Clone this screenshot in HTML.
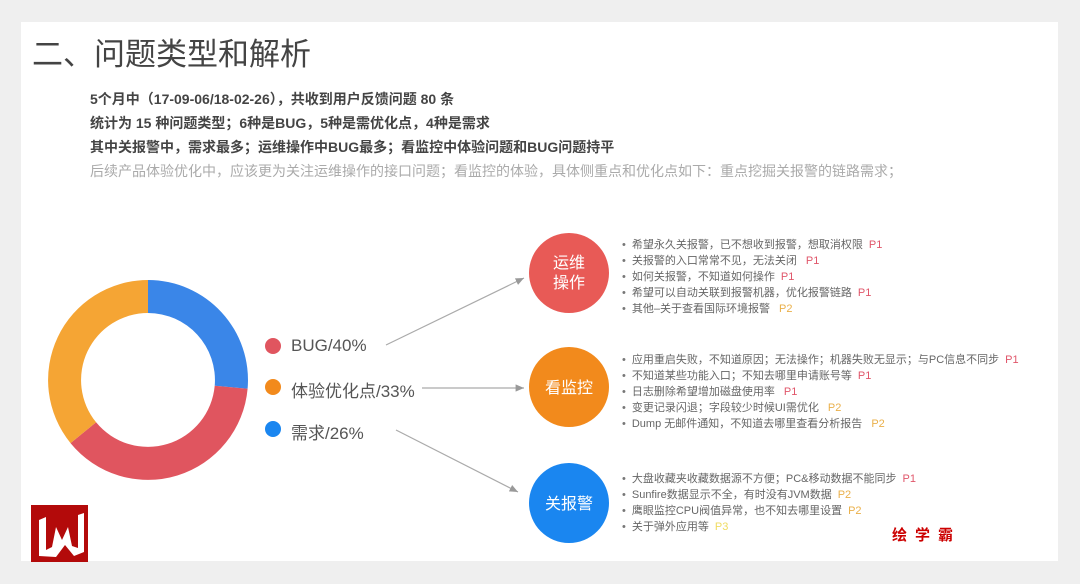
<!DOCTYPE html>
<html><head><meta charset="utf-8"><style>
body{margin:0;width:1080px;height:584px;background:#efefef;overflow:hidden;position:relative;font-family:"Liberation Sans","Noto Sans CJK SC",sans-serif}
.card{position:absolute;left:21px;top:22px;width:1037px;height:539px;background:#fff}
.t{position:absolute;white-space:nowrap}
.h{left:32px;top:29px;font-size:31px;color:#444}
.s{left:90px;font-size:14px;font-weight:bold;color:#444}
.s2{left:90px;font-size:14px;color:#aaa}
.li{position:absolute;left:622px;font-size:11px;color:#666;white-space:nowrap;line-height:16px}
.li div:before{content:"•";margin-right:6px;color:#777}
.p1{color:#e0566a;margin-left:6px}.p2{color:#eab04a;margin-left:6px}.p3{color:#f0dc60;margin-left:6px}
.lg{position:absolute;font-size:17px;color:#555;white-space:nowrap}
</style></head><body>
<div class="card"></div>
<div class="t h">二、问题类型和解析</div>
<div class="t s" style="top:89px">5个月中（17-09-06/18-02-26），共收到用户反馈问题 80 条</div>
<div class="t s" style="top:113px">统计为 15 种问题类型；6种是BUG，5种是需优化点，4种是需求</div>
<div class="t s" style="top:137px">其中关报警中，需求最多；运维操作中BUG最多；看监控中体验问题和BUG问题持平</div>
<div class="t s2" style="top:161px">后续产品体验优化中，应该更为关注运维操作的接口问题；看监控的体验，具体侧重点和优化点如下：重点挖掘关报警的链路需求；</div>
<svg style="position:absolute;left:0;top:0" width="1080" height="584">
<defs><marker id="a" markerWidth="8" markerHeight="8" refX="7" refY="4" orient="auto"><path d="M0,1 L7,4 L0,7" fill="#999"/></marker></defs>
<g transform="translate(148,380)">
<path d="M0,-100 A100,100 0 0 1 99.6,8.7 L66.7,5.8 A67,67 0 0 0 0,-67Z" fill="#3a86e8"/>
<path d="M99.6,8.7 A100,100 0 0 1 -77.5,63.1 L-51.9,42.3 A67,67 0 0 0 66.7,5.8Z" fill="#e0555f"/>
<path d="M-77.5,63.1 A100,100 0 0 1 0,-100 L0,-67 A67,67 0 0 0 -51.9,42.3Z" fill="#f5a534"/>
</g>
<circle cx="273" cy="346" r="8" fill="#e0555f"/>
<circle cx="273" cy="387" r="8" fill="#f28a1c"/>
<circle cx="273" cy="429" r="8" fill="#1a86f0"/>
<g stroke="#aaa" stroke-width="1.2" fill="none" marker-end="url(#a)">
<line x1="386" y1="345" x2="524" y2="278"/>
<line x1="422" y1="388" x2="524" y2="388"/>
<line x1="396" y1="430" x2="518" y2="492"/>
</g>
<circle cx="569" cy="273" r="40" fill="#e85a56"/>
<circle cx="569" cy="387" r="40" fill="#f28a1c"/>
<circle cx="569" cy="503" r="40" fill="#1a86f0"/>
<g fill="#fff" font-size="16" text-anchor="middle" font-family="Liberation Sans,Noto Sans CJK SC,sans-serif">
<text x="569" y="268">运维</text><text x="569" y="288">操作</text>
<text x="569" y="393">看监控</text><text x="569" y="509">关报警</text>
</g>
<rect x="31" y="505" width="57" height="57" fill="#b30a0a"/>
<path d="M39,520 L46,517 L46,550 L52,547 L56,527 L62,540 L68,527 L72,546 L78,548 L78,515 L84,513 L84,552 L74,556 L65,545 L56,557 L39,556Z" fill="#fff"/>
</svg>
<div class="lg" style="left:291px;top:336px">BUG/40%</div>
<div class="lg" style="left:291px;top:377px">体验优化点/33%</div>
<div class="lg" style="left:291px;top:419px">需求/26%</div>
<div class="li" style="top:237px">
<div>希望永久关报警，已不想收到报警，想取消权限<span class="p1">P1</span></div>
<div>关报警的入口常常不见，无法关闭 <span class="p1">P1</span></div>
<div>如何关报警，不知道如何操作<span class="p1">P1</span></div>
<div>希望可以自动关联到报警机器，优化报警链路<span class="p1">P1</span></div>
<div>其他–关于查看国际环境报警 <span class="p2">P2</span></div>
</div>
<div class="li" style="top:352px">
<div>应用重启失败，不知道原因；无法操作；机器失败无显示；与PC信息不同步<span class="p1">P1</span></div>
<div>不知道某些功能入口；不知去哪里申请账号等<span class="p1">P1</span></div>
<div>日志删除希望增加磁盘使用率 <span class="p1">P1</span></div>
<div>变更记录闪退；字段较少时候UI需优化 <span class="p2">P2</span></div>
<div>Dump 无邮件通知，不知道去哪里查看分析报告 <span class="p2">P2</span></div>
</div>
<div class="li" style="top:471px">
<div>大盘收藏夹收藏数据源不方便；PC&amp;移动数据不能同步<span class="p1">P1</span></div>
<div>Sunfire数据显示不全，有时没有JVM数据<span class="p2">P2</span></div>
<div>鹰眼监控CPU阀值异常，也不知去哪里设置<span class="p2">P2</span></div>
<div>关于弹外应用等<span class="p3">P3</span></div>
</div>
<div class="t" style="left:892px;top:524px;font-size:15px;font-weight:bold;color:#c00;letter-spacing:8px">绘学霸</div>
</body></html>
